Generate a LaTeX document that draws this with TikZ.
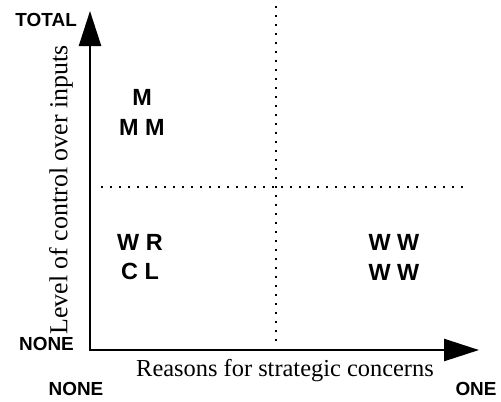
\documentclass[tikz,border=0pt]{standalone}
\usepackage{fontspec}
\setmainfont{Liberation Serif}
\setsansfont{Liberation Sans}
\usetikzlibrary{arrows.meta}
\begin{document}
\begin{tikzpicture}[x=1bp,y=-1bp,
  axis/.style={line width=2.5bp,-{Triangle[length=35bp,width=22bp]}},
  grid/.style={line width=1.6bp,dash pattern=on 1.6bp off 7.4bp},
  ends/.style={font=\sffamily\bfseries\fontsize{19}{21}\selectfont,inner sep=0pt},
  letters/.style={font=\sffamily\bfseries\fontsize{23.5}{30}\selectfont,align=center,inner sep=0pt},
  title/.style={font=\rmfamily\fontsize{24.5}{26}\selectfont,inner sep=0pt}]
\useasboundingbox (0,0) rectangle (501,401);
\coordinate (o) at (90,350);
\coordinate (ytip) at (90,11);
\coordinate (xtip) at (479,350);
\coordinate (v1) at (276,6);
\coordinate (v2) at (276,344);
\coordinate (h1) at (101,187);
\coordinate (h2) at (463,187);
\draw[grid] (v1) -- (v2);
\draw[grid] (h1) -- (h2);
\draw[axis] ([xshift=-1.25bp]o) -- (xtip);
\draw[axis] ([yshift=1.25bp]o) -- (ytip);
\node[ends,anchor=east] (total) at (77,20) {TOTAL};
\node[ends,anchor=east] (noney) at (74,344) {NONE};
\node[ends] (nonex) at (76,389) {NONE};
\node[ends] (one) at (476,389) {ONE};
\node[title] (xt) at (285,371) {Reasons for strategic concerns};
\node[title,rotate=90,font=\rmfamily\fontsize{26}{28}\selectfont] (yt) at (61,190) {Level of control over inputs};
\node[letters] (mm) at (142,112) {M\\M M};
\node[letters] (wr) at (140,257) {W R\\C L};
\node[letters] (ww) at (394,257) {W W\\W W};
\end{tikzpicture}
\end{document}
